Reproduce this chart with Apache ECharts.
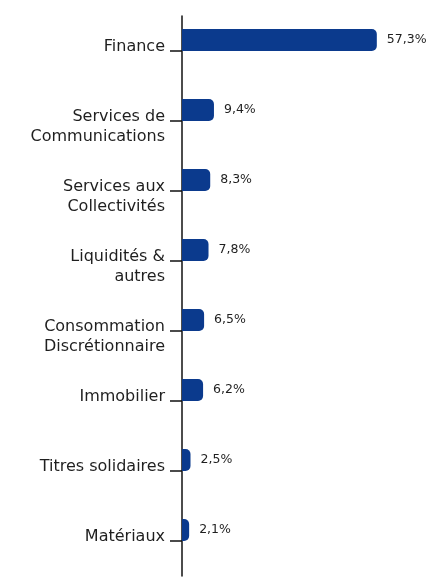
<!DOCTYPE html>
<html>
<head>
<meta charset="utf-8">
<script src="https://cdn.jsdelivr.net/npm/echarts@6/dist/echarts.min.js"></script>
<style>
  html, body { margin: 0; padding: 0; background: #ffffff; }
  #chart { width: 429px; height: 577px; }
</style>
</head>
<body>
<div id="chart"></div>
<script>
// Sector breakdown (% of portfolio)
const categories = [
  'Finance',
  'Services de\nCommunications',
  'Services aux\nCollectivités',
  'Liquidités &\nautres',
  'Consommation\nDiscrétionnaire',
  'Immobilier',
  'Titres solidaires',
  'Matériaux'
];
const weights = [57.3, 9.4, 8.3, 7.8, 6.5, 6.2, 2.5, 2.1];
// empty companion series: keeps each bar sitting just above its tick
const spacer = categories.map(() => null);

const BAR_COLOR = '#0B3A8D';
const TEXT_COLOR = '#1f1f1f';
const FONT = '"DejaVu Sans", "Noto Sans", sans-serif';

const chart = echarts.init(document.getElementById('chart'), null, { renderer: 'canvas' });

chart.setOption({
  animation: false,
  backgroundColor: '#ffffff',
  grid: { left: 182, right: 43, top: 16, bottom: 1, containLabel: false },
  xAxis: {
    type: 'value',
    min: 0,
    max: 60,
    show: false
  },
  yAxis: {
    type: 'category',
    inverse: true,
    data: categories,
    axisLine: { show: true, lineStyle: { color: '#111111', width: 1.5 } },
    axisTick: { show: true, alignWithLabel: true, length: 12, lineStyle: { color: '#111111', width: 1.5 } },
    axisLabel: {
      color: TEXT_COLOR,
      fontFamily: FONT,
      fontSize: 16,
      lineHeight: 20,
      margin: 17,
      align: 'right',
      verticalAlign: 'top',
      padding: [-14, 0, 0, 0]
    },
    splitLine: { show: false }
  },
  series: [
    {
      type: 'bar',
      data: weights,
      barWidth: 22,
      barGap: '0%',
      itemStyle: { color: BAR_COLOR, borderRadius: [0, 5, 5, 0] },
      label: {
        show: true,
        position: 'right',
        distance: 10,
        color: TEXT_COLOR,
        fontFamily: FONT,
        fontSize: 12.5,
        formatter: p => String(p.value).replace('.', ',') + '%'
      }
    },
    {
      type: 'bar',
      data: spacer,
      barWidth: 22,
      silent: true,
      itemStyle: { color: 'transparent' }
    }
  ]
});
</script>
</body>
</html>
